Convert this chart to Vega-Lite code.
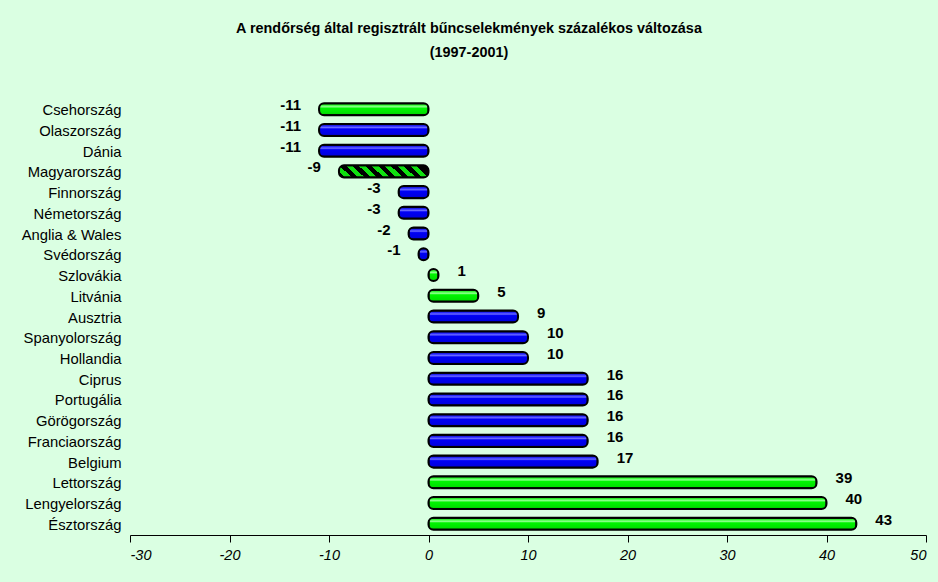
{
  "$schema": "https://vega.github.io/schema/vega-lite/v6.json",
  "autosize": "none",
  "width": 796,
  "height": 437,
  "padding": {"left": 130, "top": 98, "right": 12, "bottom": 47},
  "background": "#daffe2",
  "title": {
    "text": ["A rendőrség által regisztrált bűncselekmények százalékos változása", "(1997-2001)"],
    "font": "Liberation Sans, Arial, sans-serif",
    "fontSize": 14.4,
    "fontWeight": "bold",
    "color": "#000000",
    "anchor": "middle",
    "dx": -59,
    "lineHeight": 24,
    "offset": 38
  },
  "config": {
    "view": {"stroke": null},
    "axis": {"grid": false},
    "locale": {
      "number": {"decimal": ".", "thousands": ",", "grouping": [3], "currency": ["", ""], "minus": "-"}
    }
  },
  "data": {
    "values": [
      {"country": "Csehország", "v": -11, "grp": "g"},
      {"country": "Olaszország", "v": -11, "grp": "b"},
      {"country": "Dánia", "v": -11, "grp": "b"},
      {"country": "Magyarország", "v": -9, "grp": "h"},
      {"country": "Finnország", "v": -3, "grp": "b"},
      {"country": "Németország", "v": -3, "grp": "b"},
      {"country": "Anglia & Wales", "v": -2, "grp": "b"},
      {"country": "Svédország", "v": -1, "grp": "b"},
      {"country": "Szlovákia", "v": 1, "grp": "g"},
      {"country": "Litvánia", "v": 5, "grp": "g"},
      {"country": "Ausztria", "v": 9, "grp": "b"},
      {"country": "Spanyolország", "v": 10, "grp": "b"},
      {"country": "Hollandia", "v": 10, "grp": "b"},
      {"country": "Ciprus", "v": 16, "grp": "b"},
      {"country": "Portugália", "v": 16, "grp": "b"},
      {"country": "Görögország", "v": 16, "grp": "b"},
      {"country": "Franciaország", "v": 16, "grp": "b"},
      {"country": "Belgium", "v": 17, "grp": "b"},
      {"country": "Lettország", "v": 39, "grp": "g"},
      {"country": "Lengyelország", "v": 40, "grp": "g"},
      {"country": "Észtország", "v": 43, "grp": "g"}
    ]
  },
  "encoding": {
    "y": {
      "field": "country",
      "type": "nominal",
      "scale": {
        "domain": ["Csehország", "Olaszország", "Dánia", "Magyarország", "Finnország", "Németország", "Anglia & Wales", "Svédország", "Szlovákia", "Litvánia", "Ausztria", "Spanyolország", "Hollandia", "Ciprus", "Portugália", "Görögország", "Franciaország", "Belgium", "Lettország", "Lengyelország", "Észtország"],
        "paddingInner": 0.42,
        "paddingOuter": 0.25
      },
      "axis": {
        "title": null,
        "domain": false,
        "ticks": false,
        "labelPadding": 9,
        "labelOffset": 2,
        "labelFont": "Liberation Sans, Arial, sans-serif",
        "labelFontSize": 14.8,
        "labelColor": "#000000"
      }
    },
    "x": {
      "field": "v",
      "type": "quantitative",
      "scale": {"domain": [-30, 50], "nice": false},
      "axis": {
        "title": null,
        "values": [-30, -20, -10, 0, 10, 20, 30, 40, 50],
        "format": "d",
        "domainColor": "#000000",
        "domainWidth": 1,
        "tickColor": "#000000",
        "tickSize": 7,
        "labelPadding": 6,
        "labelFont": "Liberation Sans, Arial, sans-serif",
        "labelFontSize": 14.5,
        "labelFontStyle": "italic",
        "labelColor": "#000000"
      }
    }
  },
  "layer": [
    {
      "transform": [{"filter": "datum.grp == 'b'"}],
      "mark": {
        "type": "bar",
        "stroke": "#000000",
        "strokeWidth": 2,
        "cornerRadius": 5,
        "color": {
          "gradient": "linear", "x1": 0, "y1": 0, "x2": 0, "y2": 1,
          "stops": [
            {"offset": 0, "color": "#0000a0"},
            {"offset": 0.18, "color": "#2a2aff"},
            {"offset": 0.3, "color": "#6a6aff"},
            {"offset": 0.42, "color": "#0000f5"},
            {"offset": 0.85, "color": "#0000e0"},
            {"offset": 1, "color": "#000090"}
          ]
        }
      }
    },
    {
      "transform": [{"filter": "datum.grp == 'g'"}],
      "mark": {
        "type": "bar",
        "stroke": "#000000",
        "strokeWidth": 2,
        "cornerRadius": 5,
        "color": {
          "gradient": "linear", "x1": 0, "y1": 0, "x2": 0, "y2": 1,
          "stops": [
            {"offset": 0, "color": "#00b000"},
            {"offset": 0.18, "color": "#40ff40"},
            {"offset": 0.3, "color": "#90ff90"},
            {"offset": 0.42, "color": "#00f500"},
            {"offset": 0.85, "color": "#00e000"},
            {"offset": 1, "color": "#009000"}
          ]
        }
      }
    },
    {
      "transform": [{"filter": "datum.grp == 'h'"}],
      "mark": {
        "type": "bar",
        "stroke": "#000000",
        "strokeWidth": 2,
        "cornerRadius": 5,
        "color": {
          "gradient": "linear", "x1": 0, "y1": 1, "x2": 1.119, "y2": 0.842,
          "stops": [
            {"offset": 0, "color": "#000000"},
            {"offset": 0.0625, "color": "#000000"},
            {"offset": 0.0625, "color": "#10e010"},
            {"offset": 0.125, "color": "#10e010"},
            {"offset": 0.125, "color": "#000000"},
            {"offset": 0.1875, "color": "#000000"},
            {"offset": 0.1875, "color": "#10e010"},
            {"offset": 0.25, "color": "#10e010"},
            {"offset": 0.25, "color": "#000000"},
            {"offset": 0.3125, "color": "#000000"},
            {"offset": 0.3125, "color": "#10e010"},
            {"offset": 0.375, "color": "#10e010"},
            {"offset": 0.375, "color": "#000000"},
            {"offset": 0.4375, "color": "#000000"},
            {"offset": 0.4375, "color": "#10e010"},
            {"offset": 0.5, "color": "#10e010"},
            {"offset": 0.5, "color": "#000000"},
            {"offset": 0.5625, "color": "#000000"},
            {"offset": 0.5625, "color": "#10e010"},
            {"offset": 0.625, "color": "#10e010"},
            {"offset": 0.625, "color": "#000000"},
            {"offset": 0.6875, "color": "#000000"},
            {"offset": 0.6875, "color": "#10e010"},
            {"offset": 0.75, "color": "#10e010"},
            {"offset": 0.75, "color": "#000000"},
            {"offset": 0.8125, "color": "#000000"},
            {"offset": 0.8125, "color": "#10e010"},
            {"offset": 0.875, "color": "#10e010"},
            {"offset": 0.875, "color": "#000000"},
            {"offset": 1, "color": "#000000"}
          ]
        }
      }
    },
    {
      "transform": [{"filter": "datum.v < 0"}],
      "mark": {
        "type": "text",
        "align": "right",
        "baseline": "middle",
        "dx": -18,
        "dy": -4,
        "font": "Liberation Sans, Arial, sans-serif",
        "fontSize": 15,
        "fontWeight": "bold",
        "color": "#000000"
      },
      "encoding": {"text": {"field": "v", "type": "quantitative", "format": "d"}}
    },
    {
      "transform": [{"filter": "datum.v > 0"}],
      "mark": {
        "type": "text",
        "align": "left",
        "baseline": "middle",
        "dx": 19,
        "dy": -4,
        "font": "Liberation Sans, Arial, sans-serif",
        "fontSize": 15,
        "fontWeight": "bold",
        "color": "#000000"
      },
      "encoding": {"text": {"field": "v", "type": "quantitative", "format": "d"}}
    }
  ]
}
